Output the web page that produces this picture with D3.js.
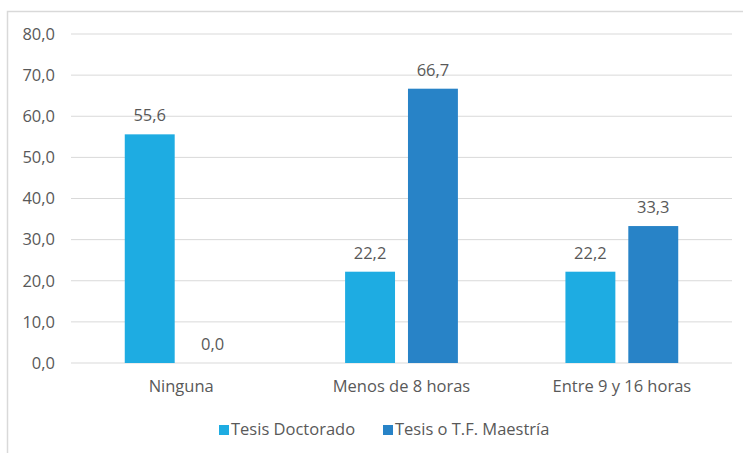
<!DOCTYPE html>
<html><head><meta charset="utf-8">
<script src="https://cdn.jsdelivr.net/npm/d3@7"></script>
<style>body{margin:0;background:#fff;font-family:"Open Sans",sans-serif;}</style>
</head><body><svg id="c" width="743" height="453"></svg>
<script>
const categories = ["Ninguna", "Menos de 8 horas", "Entre 9 y 16 horas"];
const seriesNames = ["Tesis Doctorado", "Tesis o T.F. Maestría"];
const doctorado = [55.6, 22.2, 22.2];
const maestria = [0.0, 66.7, 33.3];
const yTicks = [0, 10, 20, 30, 40, 50, 60, 70, 80];
const colors = ["#1EACE2", "#2883C7"];

const svg = d3.select("#c");
const m = {l: 71, r: 732, t: 34, b: 363};
const fmt = v => v.toFixed(1).replace(".", ",");
const txt = "#595959";
const font = "'Open Sans', sans-serif";
const fs = 16.5;

svg.append("rect").attr("x", 7.5).attr("y", 11.5).attr("width", 745).attr("height", 450)
  .attr("fill", "none").attr("stroke", "#d9d9d9").attr("stroke-width", 1.5);

const x0 = d3.scaleBand().domain(categories).range([m.l, m.r]);
const x1 = d3.scaleBand().domain(seriesNames).range([0, x0.bandwidth()]).paddingInner(0.206).paddingOuter(0.855);
const y = d3.scaleLinear().domain([0, 80]).range([m.b, m.t]);

const g = svg.append("g");
g.selectAll("line.grid").data(yTicks).join("line")
  .attr("x1", m.l).attr("x2", m.r).attr("y1", d => y(d)).attr("y2", d => y(d))
  .attr("stroke", "#d9d9d9").attr("stroke-width", 1);

const yAxis = d3.axisLeft(y).tickValues(yTicks).tickFormat(fmt).tickSize(0).tickPadding(16);
const ya = svg.append("g").attr("transform", `translate(${m.l},0)`).call(yAxis);
ya.select(".domain").remove();
ya.selectAll("text").attr("fill", txt).attr("font-size", fs).attr("font-family", font);

const xAxis = d3.axisBottom(x0).tickSize(0).tickPadding(17);
const xa = svg.append("g").attr("transform", `translate(0,${m.b})`).call(xAxis);
xa.select(".domain").remove();
xa.selectAll("text").attr("fill", txt).attr("font-size", fs).attr("font-family", font);

const data = categories.map((c, i) => ({c, vals: [doctorado[i], maestria[i]]}));
const grp = svg.selectAll("g.cat").data(data).join("g").attr("transform", d => `translate(${x0(d.c)},0)`);
grp.selectAll("rect").data(d => d.vals.map((v, j) => ({v, s: seriesNames[j], j}))).join("rect")
  .attr("x", d => x1(d.s)).attr("width", x1.bandwidth())
  .attr("y", d => y(d.v)).attr("height", d => y(0) - y(d.v)).attr("fill", d => colors[d.j]);
grp.selectAll("text").data(d => d.vals.map((v, j) => ({v, s: seriesNames[j], j}))).join("text")
  .attr("x", d => x1(d.s) + x1.bandwidth() / 2).attr("y", d => y(d.v) - 13)
  .attr("text-anchor", "middle").attr("fill", txt).attr("font-size", fs).attr("font-family", font).text(d => fmt(d.v));

const lg = svg.append("g");
const lx = [219, 383];
seriesNames.forEach((s, i) => {
  lg.append("rect").attr("x", lx[i]).attr("y", 425).attr("width", 10).attr("height", 10).attr("fill", colors[i]);
  lg.append("text").attr("x", lx[i] + 12).attr("y", 435).attr("fill", txt).attr("font-size", fs).attr("font-family", font).text(s);
});
</script></body></html>
